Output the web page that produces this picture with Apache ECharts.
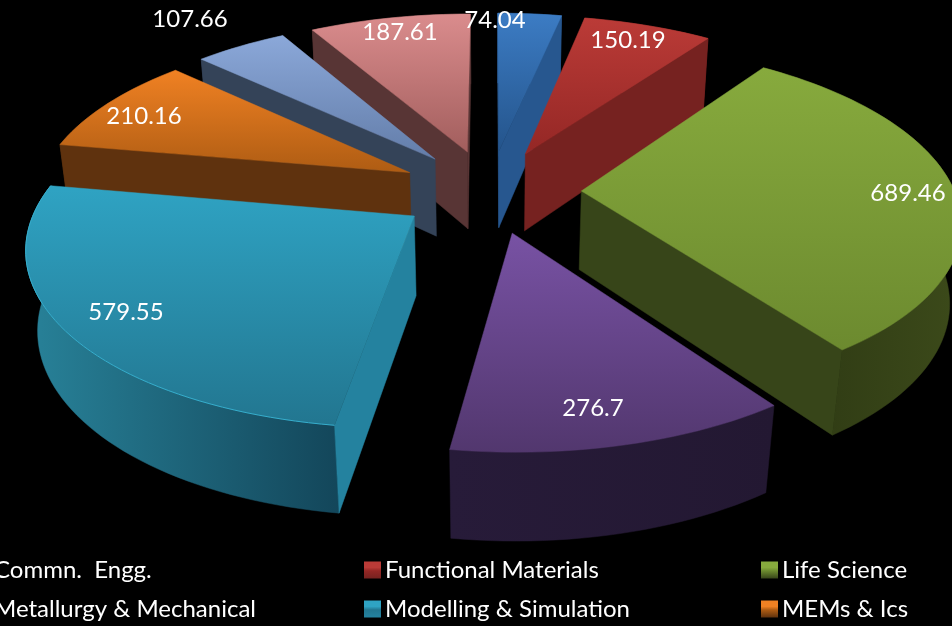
<!DOCTYPE html>
<html>
<head>
<meta charset="utf-8">
<title>Exploded 3D pie</title>
<style>
html, body { margin: 0; padding: 0; background: #000; overflow: hidden; }
#chart { width: 952px; height: 626px; }
</style>
<script src="https://cdn.jsdelivr.net/npm/echarts@6/dist/echarts.min.js"></script>
</head>
<body>
<div id="chart"></div>
<script>
// chart data, clockwise from 12 o'clock
var sliceNames = ['Commn.  Engg.', 'Functional Materials', 'Life Science', 'Metallurgy & Mechanical', 'Modelling & Simulation', 'MEMs & Ics', 'Slice 7', 'Slice 8'];
var sliceValues = [74.04, 150.19, 689.46, 276.7, 579.55, 210.16, 107.66, 187.61];

// legend columns (third row falls below the picture)
var legendColumns = [
	['Commn.  Engg.', 'Metallurgy & Mechanical'],
	['Functional Materials', 'Modelling & Simulation'],
	['Life Science', 'MEMs & Ics']
];
var legendLeft = [-27, 364, 761];

// colours per slice
var topLight = ['#3c7cc4', '#bb3b37', '#87aa3d', '#7852a4', '#2fa3c3', '#f08123', '#8ba8d9', '#da8c8d'];
var topDark = ['#24548b', '#942725', '#6c8a2f', '#52376e', '#227690', '#ae5c13', '#637da9', '#a25e5d'];
var wallColor = ['#27578f', '#762220', '#374519', '#2a1d3d', '#24829f', '#5f320e', '#344358', '#583535'];
var rimLeft = ['#27578f', '#7a2421', '#2b3612', '#271b39', '#288299', '#5f320e', '#344358', '#583535'];
var rimRight = ['#27578f', '#7a2421', '#3c4a1a', '#231832', '#13465a', '#5f320e', '#344358', '#583535'];

// label centres on the page
var labelSpots = [[495, 20], [628, 40], [908, 193], [593, 408], [126, 312], [144, 116], [190, 19], [400, 32]];

// camera fitted to the picture
var view = { cx: 490, cy: 191, a: 373, b: 170.5, k: 0.155, h: 80.5, m: 0.025, explode: 0.245 };

function project(x, y, z) {
	var s = 1 / (1 + view.k * y + view.m * z);
	return [view.cx + view.a * x * s, view.cy - view.b * y * s + view.h * z * s];
}

function vGrad(c0, c1) {
	return new echarts.graphic.LinearGradient(0, 0, 0, 1, [{ offset: 0, color: c0 }, { offset: 1, color: c1 }]);
}

function hGrad(c0, c1) {
	return new echarts.graphic.LinearGradient(0, 0, 1, 0, [{ offset: 0, color: c0 }, { offset: 1, color: c1 }]);
}

function signedArea(p) {
	var sum = 0;
	for (var i = 0; i < p.length; i++) {
		var q = p[(i + 1) % p.length];
		sum += p[i][0] * q[1] - q[0] * p[i][1];
	}
	return sum;
}

var total = 0;
for (var t = 0; t < sliceValues.length; t++) {
	total += sliceValues[t];
}

// start and end angle of a slice, worked out from the values
function sliceAngles(idx) {
	var before = 0;
	for (var i = 0; i < idx; i++) {
		before += sliceValues[i];
	}
	return [before / total * Math.PI * 2, (before + sliceValues[idx]) / total * Math.PI * 2];
}

function makeRender(idx) {
	return function(params, api) {
		var ang = sliceAngles(idx);
		var share = api.value(0) / total * Math.PI * 2;
		var a0 = ang[0];
		var a1 = a0 + share;
		var mid = (a0 + a1) / 2;
		var ox = view.explode * Math.sin(mid);
		var oy = view.explode * Math.cos(mid);
		var steps = Math.max(4, Math.ceil(share / 0.03));
		var rimTop = [];
		var rimBottom = [];
		for (var i = 0; i <= steps; i++) {
			var a = a0 + share * i / steps;
			rimTop.push(project(ox + Math.sin(a), oy + Math.cos(a), 0));
			rimBottom.push(project(ox + Math.sin(a), oy + Math.cos(a), 1));
		}
		var apexTop = project(ox, oy, 0);
		var apexBottom = project(ox, oy, 1);
		var children = [];

		function poly(points, fill) {
			children.push({
				type: 'polygon',
				silent: true,
				shape: { points: points },
				style: { fill: fill, stroke: fill, lineWidth: 0.5 }
			});
		}

		poly(rimTop.concat(rimBottom.slice().reverse()), hGrad(rimLeft[idx], rimRight[idx]));

		var startWall = [apexTop, rimTop[0], rimBottom[0], apexBottom];
		var endWall = [apexTop, rimTop[steps], rimBottom[steps], apexBottom];
		if (signedArea(startWall) < 0) {
			poly(startWall, wallColor[idx]);
		}
		if (signedArea(endWall) > 0) {
			poly(endWall, wallColor[idx]);
		}
		poly([apexTop].concat(rimTop), vGrad(topLight[idx], topDark[idx]));

		// thin light edge on the teal slice
		if (idx === 4) {
			children.push({
				type: 'polyline',
				silent: true,
				shape: { points: rimTop },
				style: { fill: null, stroke: '#36aecd', lineWidth: 1 }
			});
		}
		return { type: 'group', children: children };
	};
}

// far slices first so the near ones cover them
var drawOrder = sliceValues.map(function(v, i) { return i; }).sort(function(p, q) {
	var ap = sliceAngles(p);
	var aq = sliceAngles(q);
	return Math.cos((aq[0] + aq[1]) / 2) - Math.cos((ap[0] + ap[1]) / 2);
});

var series = drawOrder.map(function(idx) {
	return {
		type: 'custom',
		name: sliceNames[idx],
		coordinateSystem: 'none',
		animation: false,
		silent: true,
		itemStyle: { color: topLight[idx] },
		renderItem: makeRender(idx),
		data: [[sliceValues[idx]]]
	};
});

// value labels go on top of every slice
series.push({
	type: 'custom',
	name: 'labels',
	coordinateSystem: 'none',
	animation: false,
	silent: true,
	renderItem: function(params, api) {
		var spot = labelSpots[params.dataIndex];
		return {
			type: 'text',
			silent: true,
			x: spot[0],
			y: spot[1],
			style: {
				text: String(api.value(0)),
				fill: '#fff',
				font: '24px Lato',
				align: 'center',
				verticalAlign: 'middle'
			}
		};
	},
	data: sliceValues.map(function(v) { return [v]; })
});

function legendKey(name) {
	var idx = sliceNames.indexOf(name);
	return {
		name: name,
		icon: 'rect',
		itemStyle: {
			color: new echarts.graphic.LinearGradient(0, 0, 0, 1, [
				{ offset: 0, color: topLight[idx] },
				{ offset: 0.35, color: topLight[idx] },
				{ offset: 0.55, color: topDark[idx] },
				{ offset: 1, color: wallColor[idx] }
			])
		}
	};
}

var legends = legendColumns.map(function(col, i) {
	return {
		orient: 'vertical',
		left: legendLeft[i],
		top: 558,
		itemWidth: 17,
		itemHeight: 17,
		itemGap: 15,
		padding: 0,
		selectedMode: false,
		textStyle: { color: '#fff', fontFamily: 'Lato', fontSize: 24, padding: [0, 0, 0, -1] },
		data: col.map(legendKey)
	};
});

var myChart = echarts.init(document.getElementById('chart'));
myChart.setOption({
	backgroundColor: '#000',
	animation: false,
	legend: legends,
	series: series
});
</script>
</body>
</html>
